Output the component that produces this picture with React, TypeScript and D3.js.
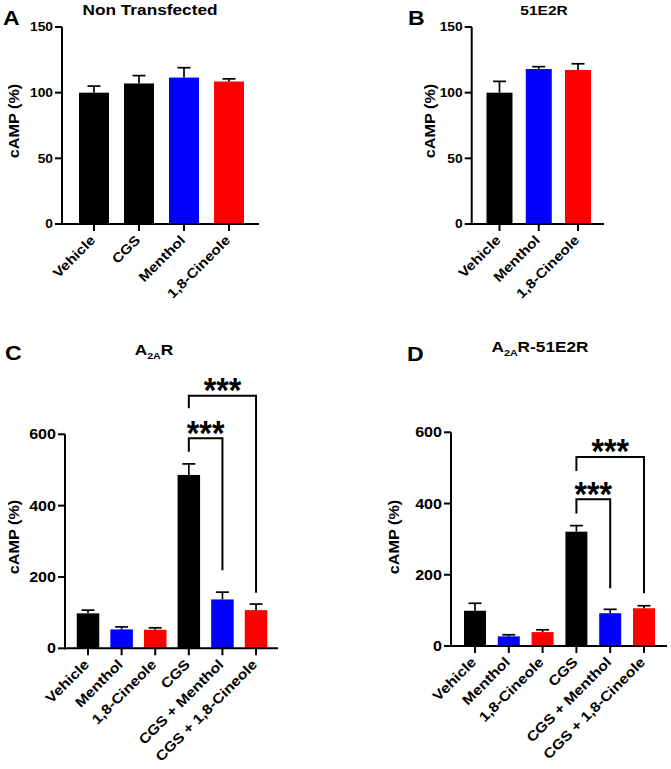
import React from "react";
import * as d3 from "d3";

// ---------- data ----------
const catsA = ["Vehicle", "CGS", "Menthol", "1,8-Cineole"];
const meanA = [100, 107, 111.5, 108.5];
const semA = [5, 6, 7.5, 2];
const colorsA = ["#000000", "#000000", "#0000ff", "#ff0000"];

const catsB = ["Vehicle", "Menthol", "1,8-Cineole"];
const meanB = [100, 118, 117.3];
const semB = [8.6, 1.8, 4.7];
const colorsB = ["#000000", "#0000ff", "#ff0000"];

const catsCD = ["Vehicle", "Menthol", "1,8-Cineole", "CGS", "CGS + Menthol", "CGS + 1,8-Cineole"];
const meanC = [98, 53, 52, 486, 137, 107];
const semC = [9, 7, 5.5, 31, 20.5, 17];
const meanD = [99, 27, 39, 321, 92, 106];
const semD = [21, 4.5, 6.5, 17, 11, 7];
const colorsCD = ["#000000", "#0000ff", "#ff0000", "#000000", "#0000ff", "#ff0000"];

const ticksAB = [0, 50, 100, 150];
const ticksCD = [0, 200, 400, 600];

// significance brackets: from index, to index, bracket level, left leg end, right leg end (data units)
const bracketsC = [
  { from: 3, to: 4, level: 589, leftEnd: 551, rightEnd: 219, label: "***" },
  { from: 3, to: 5, level: 708, leftEnd: 673, rightEnd: 156, label: "***" },
];
const bracketsD = [
  { from: 3, to: 4, level: 412, leftEnd: 372, rightEnd: 162, label: "***" },
  { from: 3, to: 5, level: 531, leftEnd: 491, rightEnd: 148, label: "***" },
];

const FONT = "'Liberation Sans', Arial, Helvetica, sans-serif";
const SX = 1.15; // glyphs in the reference are wider than Arial

type TitlePart = { t: string; sub?: boolean };

function Panel(p: any) {
  const y = d3.scaleLinear().domain([0, p.max]).range([p.yBottom, p.yTop]);
  const x = d3
    .scaleBand<string>()
    .domain(p.cats)
    .range([p.bandStart, p.bandEnd])
    .paddingInner(p.padIn)
    .paddingOuter(0);
  const bw = x.bandwidth();
  const cx = (c: string) => (x(c) as number) + bw / 2;
  const y0 = y(0);
  const capW = 13;
  return (
    <g fontFamily={FONT} fontWeight="bold">
      {/* bars */}
      {p.cats.map((c: string, i: number) => (
        <rect key={"b" + i} x={x(c)} y={y(p.means[i])} width={bw} height={y0 - y(p.means[i])} fill={p.colors[i]} />
      ))}
      {/* error bars */}
      {p.cats.map((c: string, i: number) => {
        const top = y(p.means[i] + p.sems[i]);
        return (
          <g key={"e" + i} stroke="#000" strokeWidth={1.7} fill="none">
            <line x1={cx(c)} x2={cx(c)} y1={y(p.means[i])} y2={top} />
            <line x1={cx(c) - capW / 2} x2={cx(c) + capW / 2} y1={top} y2={top} />
          </g>
        );
      })}
      {/* y axis */}
      <line x1={p.axisX} x2={p.axisX} y1={y(p.max)} y2={y0 + 1} stroke="#000" strokeWidth={2} />
      {p.ticks.map((t: number) => (
        <g key={"t" + t}>
          <line x1={p.axisX - 7} x2={p.axisX} y1={y(t)} y2={y(t)} stroke="#000" strokeWidth={2} />
          <text
            transform={`translate(${p.axisX - 9},${y(t)}) scale(${SX},1)`}
            dy="0.36em"
            textAnchor="end"
            fontSize={p.tickFont}
          >
            {t}
          </text>
        </g>
      ))}
      {/* x axis */}
      <line x1={p.axisX - 1} x2={p.axisEnd} y1={y0} y2={y0} stroke="#000" strokeWidth={2} />
      {p.cats.map((c: string, i: number) => (
        <g key={"x" + i}>
          <line x1={cx(c)} x2={cx(c)} y1={y0} y2={y0 + 7} stroke="#000" strokeWidth={2} />
          <text
            transform={`translate(${cx(c) + 2},${y0 + 17}) rotate(-45) scale(${SX},1)`}
            textAnchor="end"
            fontSize={p.xFont}
          >
            {c}
          </text>
        </g>
      ))}
      {/* y label */}
      <text
        transform={`translate(${p.ylabX},${p.ylabY}) rotate(-90) scale(${SX},1)`}
        textAnchor="middle"
        dy="0.36em"
        fontSize={14.1}
      >
        cAMP (%)
      </text>
      {/* title */}
      <text
        transform={`translate(${p.titleX},${p.titleY}) scale(${SX},1)`}
        textAnchor="middle"
        fontSize={p.titleFont}
      >
        {p.title.map((part: TitlePart, i: number) =>
          part.sub ? (
            <tspan key={i} fontSize={p.titleFont * 0.62} dy={4}>
              {part.t}
            </tspan>
          ) : (
            <tspan key={i} dy={i > 0 && p.title[i - 1].sub ? -4 : 0}>
              {part.t}
            </tspan>
          )
        )}
      </text>
      {/* panel letter */}
      <text transform={`translate(${p.letterX},${p.letterY}) scale(1.1,1)`} fontSize={21}>
        {p.letter}
      </text>
      {/* brackets */}
      {(p.brackets || []).map((b: any, i: number) => {
        const xl = cx(p.cats[b.from]);
        const xr = cx(p.cats[b.to]);
        const yl = y(b.level);
        return (
          <g key={"br" + i}>
            <path
              d={`M${xl},${y(b.leftEnd)}V${yl}H${xr}V${y(b.rightEnd)}`}
              fill="none"
              stroke="#000"
              strokeWidth={2}
            />
            <text
              transform={`translate(${(xl + xr) / 2},${yl - 14}) scale(${SX},1.25)`}
              dy="0.585em"
              textAnchor="middle"
              fontSize={28}
            >
              {b.label}
            </text>
          </g>
        );
      })}
    </g>
  );
}

export default function App() {
  return (
    <svg
      width={671}
      height={769}
      viewBox="0 0 671 769"
      style={{ position: "absolute", left: 0, top: 0, background: "#fff" }}
    >
      <rect width={671} height={769} fill="#fff" />
      <Panel
        cats={catsA}
        means={meanA}
        sems={semA}
        colors={colorsA}
        ticks={ticksAB}
        max={150}
        yBottom={224}
        yTop={27}
        bandStart={79}
        bandEnd={244}
        padIn={1 / 3}
        axisX={62}
        axisEnd={259}
        tickFont={12}
        xFont={13.4}
        ylabX={14}
        ylabY={121}
        title={[{ t: "Non Transfected" }]}
        titleFont={15}
        titleX={150}
        titleY={15}
        letter="A"
        letterX={3}
        letterY={25}
      />
      <Panel
        cats={catsB}
        means={meanB}
        sems={semB}
        colors={colorsB}
        ticks={ticksAB}
        max={150}
        yBottom={224}
        yTop={27}
        bandStart={486.5}
        bandEnd={591}
        padIn={0.3376}
        axisX={471.7}
        axisEnd={604}
        tickFont={12}
        xFont={13.4}
        ylabX={430}
        ylabY={121}
        title={[{ t: "51E2R" }]}
        titleFont={13.5}
        titleX={544}
        titleY={15}
        letter="B"
        letterX={408}
        letterY={25}
      />
      <Panel
        cats={catsCD}
        means={meanC}
        sems={semC}
        colors={colorsCD}
        ticks={ticksCD}
        max={600}
        yBottom={648.3}
        yTop={434.3}
        bandStart={76.75}
        bandEnd={267.3}
        padIn={0.33}
        axisX={65}
        axisEnd={278}
        tickFont={14}
        xFont={13.8}
        ylabX={13.5}
        ylabY={537}
        title={[{ t: "A" }, { t: "2A", sub: true }, { t: "R" }]}
        titleFont={15}
        titleX={154}
        titleY={355}
        letter="C"
        letterX={5}
        letterY={360}
        brackets={bracketsC}
      />
      <Panel
        cats={catsCD}
        means={meanD}
        sems={semD}
        colors={colorsCD}
        ticks={ticksCD}
        max={600}
        yBottom={646}
        yTop={432.3}
        bandStart={464}
        bandEnd={655}
        padIn={0.35}
        axisX={451}
        axisEnd={667}
        tickFont={14}
        xFont={13.8}
        ylabX={393.5}
        ylabY={537}
        title={[{ t: "A" }, { t: "2A", sub: true }, { t: "R-51E2R" }]}
        titleFont={15}
        titleX={540}
        titleY={352}
        letter="D"
        letterX={407}
        letterY={361}
        brackets={bracketsD}
      />
    </svg>
  );
}
